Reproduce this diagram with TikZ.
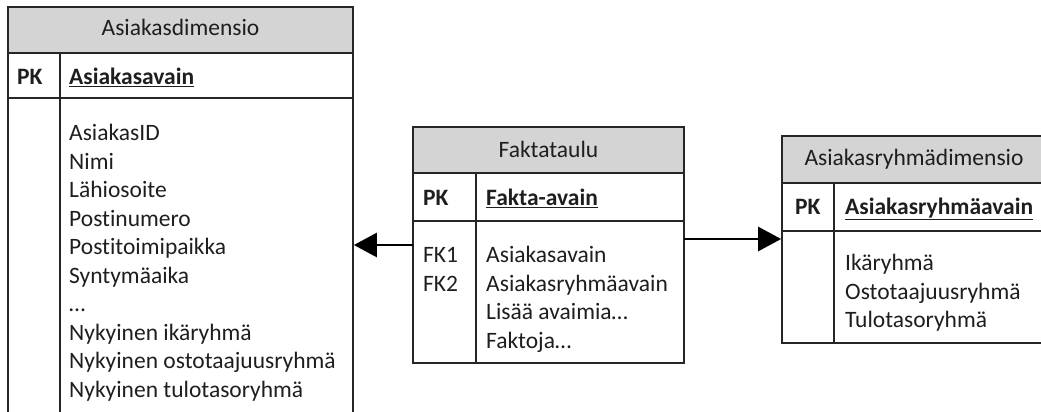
\documentclass[tikz,border=0pt]{standalone}
\usepackage{fontspec}
\setmainfont{Carlito}[Ligatures=NoCommon]
\usetikzlibrary{arrows.meta}
\definecolor{hdr}{HTML}{D4D4D4}
\definecolor{txt}{HTML}{1E1E1E}
\tikzset{
  x=1pt,y=-1pt,
  box/.style={draw=black!85,line width=1.7pt,inner sep=0pt,rectangle},
  hdrbox/.style={box,fill=hdr},
  divline/.style={draw=black!85,line width=1.7pt},
  txtfont/.style={font=\fontsize{23.5}{28}\selectfont,text=txt},
  title/.style={txtfont,inner sep=0pt,anchor=mid},
  field/.style={txtfont,inner sep=0pt,anchor=mid west},
  key/.style={txtfont,inner sep=0pt,anchor=mid west,font=\fontsize{23.5}{28}\selectfont\bfseries},
  arr/.style={draw=black,line width=2.6pt,-{Triangle[length=23pt,width=24pt]}}
}
\begin{document}
\begin{tikzpicture}
\useasboundingbox (0,0) rectangle (1041,412);
% Asiakasdimensio
\node[hdrbox,minimum width=345pt,minimum height=46pt] (ahdr) at (180.5,30) {};
\node[box,minimum width=345pt,minimum height=45pt] (apk) at (180.5,75.5) {};
\node[box,minimum width=345pt,minimum height=330pt] (abody) at (180.5,263) {};
\draw[divline] (60,53) -- (60,430);
\node[title] (atitle) at (180.5,33) {Asiakasdimensio};
\node[key] (apklbl) at (17,82) {PK};
\node[key] (apkname) at (69,82) {\underline{Asiakasavain}};
\foreach \t [count=\i] in {AsiakasID,Nimi,Lähiosoite,Postinumero,Postitoimipaikka,Syntymäaika,…,Nykyinen ikäryhmä,Nykyinen ostotaajuusryhmä,Nykyinen tulotasoryhmä}
  \node[field] (af\i) at (69,{138.5+(\i-1)*28.5}) {\t};
% Faktataulu
\node[hdrbox,minimum width=271pt,minimum height=46pt] (fhdr) at (548.5,150) {};
\node[box,minimum width=271pt,minimum height=48pt] (fpk) at (548.5,197) {};
\node[box,minimum width=271pt,minimum height=142pt] (fbody) at (548.5,292) {};
\draw[divline] (476,173) -- (476,363);
\node[title] (ftitle) at (548.5,155) {Faktataulu};
\node[key] (fpklbl) at (423,203) {PK};
\node[key] (fpkname) at (486,203) {\underline{Fakta-avain}};
\node[field] (fk1) at (423,260.5) {FK1};
\node[field] (fk2) at (423,289) {FK2};
\foreach \t [count=\i] in {Asiakasavain,Asiakasryhmäavain,Lisää avaimia…,Faktoja…}
  \node[field] (ff\i) at (486,{260.5+(\i-1)*28.5}) {\t};
% Asiakasryhmadimensio
\node[hdrbox,minimum width=264pt,minimum height=47pt] (rhdr) at (914,159.5) {};
\node[box,minimum width=264pt,minimum height=48pt] (rpk) at (914,207) {};
\node[box,minimum width=264pt,minimum height=112pt] (rbody) at (914,287) {};
\draw[divline] (834,183) -- (834,343);
\node[title] (rtitle) at (914,163) {Asiakasryhmädimensio};
\node[key] (rpklbl) at (795,212) {PK};
\node[key] (rpkname) at (845,212) {\underline{Asiakasryhmäavain}};
\foreach \t [count=\i] in {Ikäryhmä,Ostotaajuusryhmä,Tulotasoryhmä}
  \node[field] (rf\i) at (845,{268.5+(\i-1)*28.5}) {\t};
% connectors
\coordinate (c1) at (413,245);
\coordinate (c2) at (684,239);
\draw[arr] (c1) -- (abody.east |- c1);
\draw[arr] (c2) -- (rbody.west |- c2);
\end{tikzpicture}
\end{document}
